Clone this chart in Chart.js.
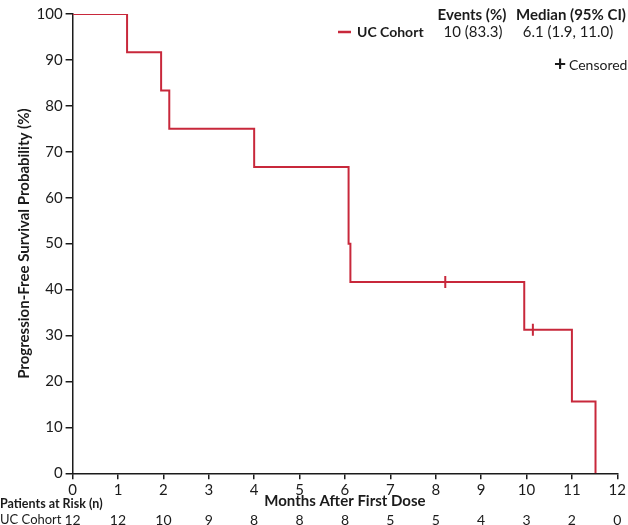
<!DOCTYPE html>
<html>
<head>
<meta charset="utf-8">
<script src="https://cdn.jsdelivr.net/npm/chart.js@4"></script>
<style>
  html, body { margin: 0; padding: 0; background: #fff; }
  #km-chart { display: block; }
</style>
</head>
<body>
<canvas id="km-chart" width="628" height="525"></canvas>
<script>
// Kaplan-Meier steps (month of event, PFS % after event)
const eventMonths = [0, 1.2, 1.95, 2.13, 4.0, 6.08, 6.12, 9.95, 11.0, 11.52];
const pfsValues = [100, 91.67, 83.33, 75.0, 66.67, 50.0, 41.67, 31.25, 15.63, 0];
// censored patients
const censorMonths = [8.21, 10.14];
const censorValues = [41.67, 31.25];
// risk table
const riskMonths = [0, 1, 2, 3, 4, 5, 6, 7, 8, 9, 10, 11, 12];
const atRisk = [12, 12, 10, 9, 8, 8, 8, 5, 5, 4, 3, 2, 0];
const cohortName = "UC Cohort";
const eventsText = "10 (83.3)";
const medianText = "6.1 (1.9, 11.0)";

const RED = "#c8283b";
const INK = "#1b1b1b";
const FONT = "Lato";

Chart.defaults.font.family = FONT;
Chart.defaults.color = INK;

const kmPoints = eventMonths.map((m, i) => ({ x: m, y: pfsValues[i] }));
const censorPoints = censorMonths.map((m, i) => ({ x: m, y: censorValues[i] }));

// legend table, x title and patients-at-risk rows
const extrasPlugin = {
  id: "kmExtras",
  afterDraw(chart) {
    const ctx = chart.ctx;
    const xs = chart.scales.x;
    ctx.save();
    ctx.fillStyle = INK;
    ctx.textBaseline = "middle";

    // legend
    ctx.strokeStyle = RED;
    ctx.lineWidth = 2.5;
    ctx.beginPath();
    ctx.moveTo(338, 32);
    ctx.lineTo(351, 32);
    ctx.stroke();
    ctx.font = "bold 14px " + FONT;
    ctx.textAlign = "left";
    ctx.fillText(cohortName, 357, 32);
    ctx.font = "bold 15px " + FONT;
    ctx.textAlign = "center";
    ctx.fillText("Events (%)", 472, 15);
    ctx.fillText("Median (95% CI)", 571, 15);
    ctx.font = "15px " + FONT;
    ctx.fillText(eventsText, 473, 32);
    ctx.fillText(medianText, 568, 32);
    ctx.font = "bold 21px " + FONT;
    ctx.fillText("+", 560, 64);
    ctx.font = "14px " + FONT;
    ctx.textAlign = "left";
    ctx.fillText("Censored", 569, 65);

    // x axis title
    ctx.font = "bold 15px " + FONT;
    ctx.textAlign = "center";
    ctx.fillText("Months After First Dose", (xs.left + xs.right) / 2, 501);

    // patients at risk
    ctx.font = "bold 12.5px " + FONT;
    ctx.textAlign = "left";
    ctx.fillText("Patients at Risk (n)", 0, 504);
    ctx.font = "13px " + FONT;
    ctx.fillText(cohortName, 0, 520);
    ctx.font = "14px " + FONT;
    ctx.textAlign = "center";
    riskMonths.forEach((m, i) => {
      ctx.fillText(String(atRisk[i]), xs.getPixelForValue(m), 520);
    });
    ctx.restore();
  }
};

const config_km = {
  type: "line",
  data: {
    datasets: [
      {
        label: cohortName,
        data: kmPoints,
        stepped: "before",
        borderColor: RED,
        borderWidth: 2,
        pointRadius: 0,
        fill: false
      },
      {
        label: "Censored",
        type: "scatter",
        data: censorPoints,
        pointStyle: "line",
        rotation: 90,
        pointRadius: 6,
        borderColor: RED,
        borderWidth: 2
      }
    ]
  },
  options: {
    responsive: false,
    animation: false,
    layout: { padding: { top: 14, right: 10, left: 0, bottom: 0 } },
    plugins: {
      legend: { display: false },
      tooltip: { enabled: false }
    },
    scales: {
      x: {
        type: "linear",
        min: 0,
        max: 12,
        afterFit(scale) { scale.height = 51.7; },
        border: { display: true, color: INK, width: 1.5 },
        grid: { drawOnChartArea: false, drawTicks: true, tickLength: 6, color: INK, lineWidth: 1.5 },
        ticks: { stepSize: 1, padding: 2, font: { size: 15 }, color: INK, maxRotation: 0 }
      },
      y: {
        min: 0,
        max: 100,
        afterFit(scale) { scale.width = 72.6; },
        border: { display: true, color: INK, width: 1.5 },
        grid: { drawOnChartArea: false, drawTicks: true, tickLength: 7, color: INK, lineWidth: 1.5 },
        ticks: { stepSize: 10, padding: 3, font: { size: 15 }, color: INK },
        title: {
          display: true,
          text: "Progression-Free Survival Probability (%)",
          font: { size: 15, weight: "bold" },
          color: INK,
          padding: { top: 15, bottom: 0 }
        }
      }
    }
  },
  plugins: [extrasPlugin]
};

var ctx_km = document.getElementById("km-chart").getContext("2d");
var kmChart = new Chart(ctx_km, config_km);
</script>
</body>
</html>
